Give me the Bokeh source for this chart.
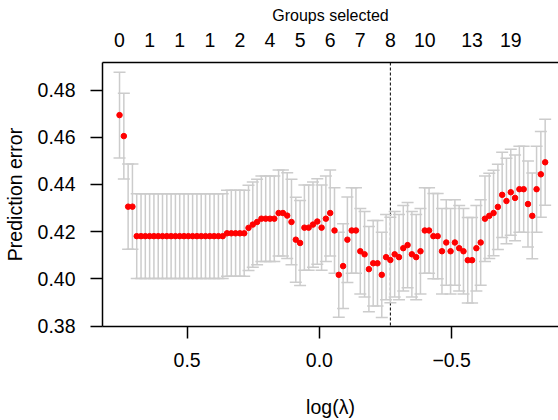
from bokeh.plotting import figure
from bokeh.models import (ColumnDataSource, Range1d, LinearAxis, FixedTicker,
                          PrintfTickFormatter, Whisker, TeeHead, Span)
from bokeh.embed import file_html
from bokeh.resources import INLINE

# log(lambda) grid
log_lambda = [
    0.7555, 0.7392, 0.7230, 0.7067, 0.6905, 0.6742, 0.6580, 0.6417, 0.6255, 0.6092,
    0.5930, 0.5767, 0.5605, 0.5442, 0.5280, 0.5117, 0.4955, 0.4792, 0.4629, 0.4467,
    0.4304, 0.4142, 0.3979, 0.3817, 0.3654, 0.3492, 0.3329, 0.3167, 0.3004, 0.2842,
    0.2679, 0.2517, 0.2354, 0.2192, 0.2029, 0.1866, 0.1704, 0.1541, 0.1379, 0.1216,
    0.1054, 0.0891, 0.0729, 0.0566, 0.0404, 0.0241, 0.0079, -0.0084, -0.0246, -0.0409,
    -0.0572, -0.0734, -0.0897, -0.1059, -0.1222, -0.1384, -0.1547, -0.1709, -0.1872, -0.2034,
    -0.2197, -0.2359, -0.2522, -0.2684, -0.2847, -0.3010, -0.3172, -0.3335, -0.3497, -0.3660,
    -0.3822, -0.3985, -0.4147, -0.4310, -0.4472, -0.4635, -0.4797, -0.4960, -0.5123, -0.5285,
    -0.5448, -0.5610, -0.5773, -0.5935, -0.6098, -0.6260, -0.6423, -0.6585, -0.6748, -0.6910,
    -0.7073, -0.7236, -0.7398, -0.7561, -0.7723, -0.7886, -0.8048, -0.8211, -0.8373, -0.8536,
]

# cross-validated prediction error
cv_error = [
    0.4694, 0.4605, 0.4306, 0.4306, 0.4181, 0.4181, 0.4181, 0.4181, 0.4181, 0.4181,
    0.4181, 0.4181, 0.4181, 0.4181, 0.4181, 0.4181, 0.4181, 0.4181, 0.4181, 0.4181,
    0.4181, 0.4181, 0.4181, 0.4181, 0.4181, 0.4193, 0.4193, 0.4193, 0.4193, 0.4193,
    0.4216, 0.4230, 0.4241, 0.4255, 0.4255, 0.4255, 0.4255, 0.4279, 0.4279, 0.4268,
    0.4241, 0.4166, 0.4152, 0.4217, 0.4217, 0.4230, 0.4243, 0.4217, 0.4255, 0.4279,
    0.4205, 0.4017, 0.4054, 0.4166, 0.4205, 0.4205, 0.4117, 0.4104, 0.4041, 0.4066,
    0.4066, 0.4017, 0.4092, 0.4080, 0.4104, 0.4092, 0.4130, 0.4143, 0.4104, 0.4092,
    0.4117, 0.4205, 0.4205, 0.4181, 0.4181, 0.4117, 0.4154, 0.4117, 0.4154, 0.4130,
    0.4117, 0.4079, 0.4079, 0.4130, 0.4154, 0.4255, 0.4267, 0.4279, 0.4305, 0.4356,
    0.4330, 0.4367, 0.4343, 0.4380, 0.4380, 0.4317, 0.4267, 0.4380, 0.4443, 0.4494,
]

# standard error of the CV error
cv_se = [
    0.0182, 0.0182, 0.0181, 0.0181, 0.0180, 0.0180, 0.0180, 0.0180, 0.0180, 0.0180,
    0.0180, 0.0180, 0.0180, 0.0180, 0.0180, 0.0180, 0.0180, 0.0180, 0.0180, 0.0180,
    0.0180, 0.0180, 0.0180, 0.0180, 0.0180, 0.0182, 0.0182, 0.0182, 0.0182, 0.0182,
    0.0181, 0.0181, 0.0181, 0.0181, 0.0181, 0.0181, 0.0181, 0.0182, 0.0182, 0.0182,
    0.0181, 0.0180, 0.0180, 0.0181, 0.0181, 0.0181, 0.0181, 0.0181, 0.0181, 0.0182,
    0.0181, 0.0180, 0.0180, 0.0181, 0.0181, 0.0181, 0.0181, 0.0181, 0.0181, 0.0181,
    0.0181, 0.0181, 0.0181, 0.0181, 0.0181, 0.0181, 0.0181, 0.0181, 0.0181, 0.0181,
    0.0181, 0.0181, 0.0181, 0.0181, 0.0181, 0.0181, 0.0181, 0.0181, 0.0181, 0.0181,
    0.0181, 0.0181, 0.0181, 0.0181, 0.0181, 0.0181, 0.0181, 0.0181, 0.0181, 0.0181,
    0.0181, 0.0182, 0.0182, 0.0182, 0.0182, 0.0182, 0.0182, 0.0182, 0.0182, 0.0182,
]

min_index = 63
top_tick_index = [0, 7, 14, 21, 28, 35, 42, 49, 56, 63, 71, 82, 91]
groups_selected = [0, 1, 1, 1, 2, 4, 5, 6, 7, 8, 10, 13, 19]
x_ticks = [0.5, 0.0, -0.5]
x_tick_labels = ["0.5", "0.0", "\u22120.5"]
y_ticks = [0.38, 0.40, 0.42, 0.44, 0.46, 0.48]

lower = [e - s for e, s in zip(cv_error, cv_se)]
upper = [e + s for e, s in zip(cv_error, cv_se)]
src = ColumnDataSource(dict(x=log_lambda, y=cv_error, lower=lower, upper=upper))

x_pad = 0.04 * (max(log_lambda) - min(log_lambda))
x_start = max(log_lambda) + x_pad

FONT = "Liberation Sans"
p = figure(width=558, height=420, output_backend="svg", toolbar_location=None,
           x_range=Range1d(x_start, -0.904), y_range=Range1d(0.3798, 0.4917),
           min_border_left=101, min_border_right=0, min_border_top=62,
           min_border_bottom=94)
p.outline_line_color = None
p.xgrid.visible = False
p.ygrid.visible = False
p.background_fill_color = "white"
p.border_fill_color = "white"

p.add_layout(Span(location=log_lambda[min_index], dimension="height",
                  line_color="black", line_width=1, line_dash="3 2",
                  level="underlay"))

grey = "#cccccc"
p.add_layout(Whisker(base="x", lower="lower", upper="upper", source=src,
                     dimension="height", line_color=grey, line_width=1.5,
                     level="underlay",
                     upper_head=TeeHead(size=12, line_color=grey, line_width=1.5),
                     lower_head=TeeHead(size=12, line_color=grey, line_width=1.5)))

p.scatter("x", "y", source=src, size=5.5, color="red", line_color="red")

top = LinearAxis(ticker=FixedTicker(ticks=[log_lambda[i] for i in top_tick_index]),
                 major_label_overrides={log_lambda[i]: str(g)
                                        for i, g in zip(top_tick_index, groups_selected)},
                 axis_label="Groups selected")
p.add_layout(top, "above")

xa = None
for ax in p.xaxis:
    if ax is not top:
        xa = ax
ya = p.yaxis[0]

xa.ticker = FixedTicker(ticks=x_ticks)
xa.major_label_overrides = {t: s for t, s in zip(x_ticks, x_tick_labels)}
xa.axis_label = "log(\u03bb)"
ya.ticker = FixedTicker(ticks=y_ticks)
ya.formatter = PrintfTickFormatter(format="%.2f")
ya.axis_label = "Prediction error"

for ax in (xa, ya, top):
    ax.axis_line_color = "black"
    ax.axis_line_width = 1.5
    ax.major_tick_line_color = "black"
    ax.major_tick_line_width = 1.5
    ax.major_tick_in = 0
    ax.major_tick_out = 12
    ax.minor_tick_in = 0
    ax.minor_tick_out = 0
    ax.major_label_text_font = FONT
    ax.major_label_text_font_size = "19.5px"
    ax.major_label_text_color = "black"
    ax.axis_label_text_font = FONT
    ax.axis_label_text_font_size = "19.5px"
    ax.axis_label_text_font_style = "normal"
    ax.axis_label_text_color = "black"

ya.major_label_standoff = 15
ya.axis_label_standoff = 9
xa.major_label_standoff = 14
xa.axis_label_standoff = 26

top.major_tick_out = 0
top.major_tick_line_color = None
top.major_label_standoff = 16
top.axis_label_standoff = 6
top.axis_label_text_font_size = "16px"

open("out.html", "w").write(file_html(p, INLINE))
